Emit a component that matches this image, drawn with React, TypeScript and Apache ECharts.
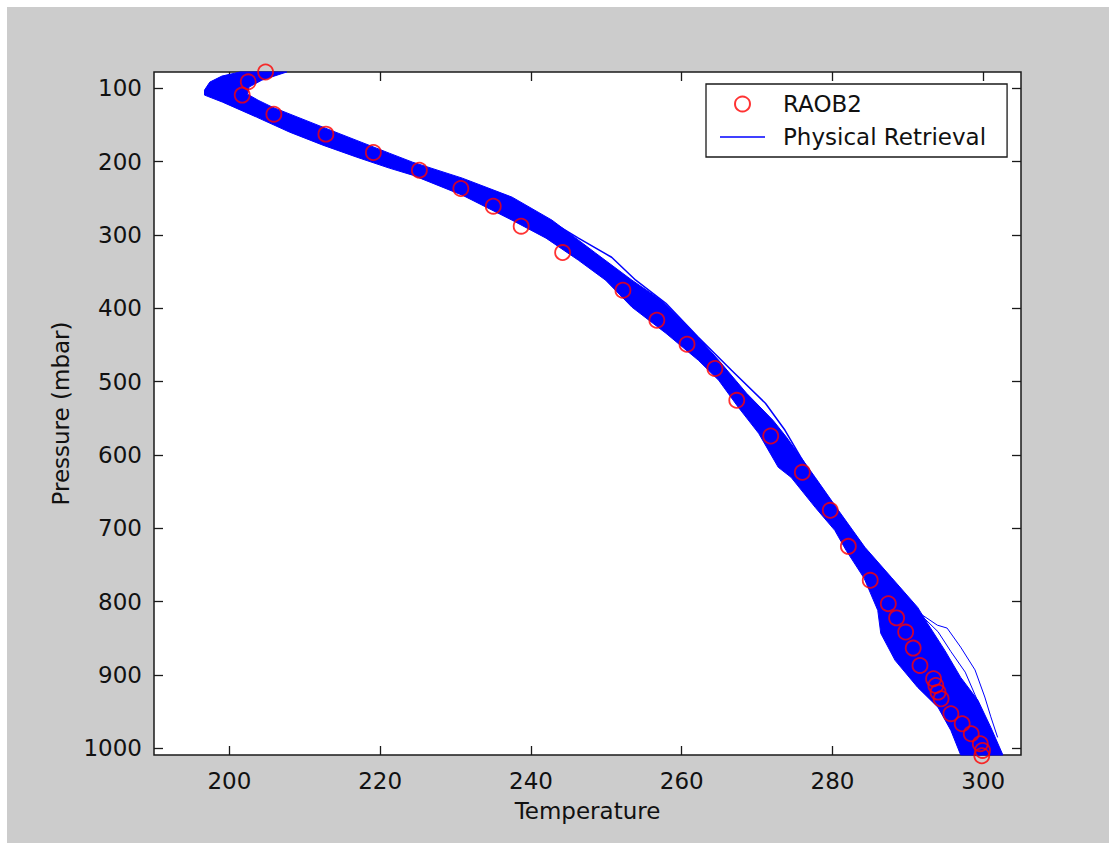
import React, { useEffect, useRef } from "react";
import * as echarts from "echarts";

// Axis ticks
const tempTicks = [200, 220, 240, 260, 280, 300];
const pressureTicks = [100, 200, 300, 400, 500, 600, 700, 800, 900, 1000];

// RAOB2 observations (Temperature K, Pressure mbar)
const raobTemp = [
  204.8, 202.5, 201.7, 205.9, 212.8, 219.1, 225.2, 230.7, 235.0, 238.7, 244.2, 252.2,
  256.7, 260.7, 264.4, 267.3, 271.8, 276.0, 279.7, 282.1, 285.0, 287.4, 288.5, 289.7,
  290.7, 291.6, 293.4, 293.7, 294.0, 294.4, 295.7, 297.2, 298.4, 299.6, 299.9, 299.8,
];
const raobPressure = [
  78, 91.4, 109.5, 135.5, 162.7, 187.7, 211.8, 236.8, 260.9, 288.2, 324.1, 375.5,
  416.4, 449.1, 482.2, 525.5, 574.2, 623.7, 675.5, 724.6, 770.9, 802.7, 822.1, 841.4,
  863.3, 886.9, 905, 914.2, 923.3, 932.3, 952.7, 966.4, 980, 993.6, 1002.8, 1010,
];

// Physical retrieval ensemble envelope: warm (right) edge
const bandWarmTemp = [
  207.6, 204.3, 202.6, 202.4, 203.8, 205.7, 212.4, 221.2, 224.3, 230.9, 237.5, 242.8,
  248.6, 253.4, 257.3, 261.3, 264.9, 268.6, 272.1, 273.9, 277.7, 280.5, 284.3, 287.8,
  291.3, 292.6, 294.9, 297.0, 299.3, 301.0, 302.6,
];
const bandWarmPressure = [
  78, 89.1, 98.6, 108.2, 116.4, 125.9, 153.2, 188.6, 200.9, 222.7, 248.6, 280,
  325, 361.8, 389.1, 430, 470.9, 515.9, 552.7, 575.9, 630.5, 671.4, 725.9, 766.8,
  807.8, 829.6, 866.4, 903.2, 934.6, 971.4, 1009,
];
// Physical retrieval ensemble envelope: cold (left) edge
const bandColdTemp = [
  201.4, 199.0, 197.4, 196.7, 196.7, 199.1, 203.6, 208.0, 212.4, 216.9, 221.2, 224.3,
  230.9, 237.5, 242.0, 246.3, 249.9, 253.4, 257.9, 262.2, 264.9, 267.5, 270.2, 272.8,
  274.5, 277.7, 280.3, 281.8, 284.2, 286.0, 286.4, 288.3, 291.3, 294.0, 295.7, 297.0,
];
const bandColdPressure = [
  78, 83.6, 91.8, 102.7, 109.5, 119.1, 139.5, 160, 177.7, 194.1, 209, 218.6,
  245.9, 280, 304.5, 334.6, 361.8, 398.6, 434.1, 470.9, 498.2, 535, 570.5, 616.8,
  630.5, 671.4, 702.8, 730, 768.2, 811.8, 843.2, 880, 916.9, 944.1, 975.5, 1009,
];

// Individual retrieval profiles that stray outside the envelope
const outlierATemp = [242.8, 246.3, 250.7, 253.9, 257.9, 262.2, 266.6, 271.1, 273.7, 275.8, 277.0];
const outlierAPressure = [282.7, 304.5, 330.5, 361.8, 393.2, 439.6, 484.6, 529.6, 566.4, 603.2, 623.7];
const outlierBTemp = [285.5, 287.0, 291.3, 293.9, 295.2, 297.0, 298.9, 300.2, 301.0, 301.9];
const outlierBPressure = [745, 764, 814, 832, 836, 862, 893, 930, 957, 985];
const outlierCTemp = [285.8, 287.4, 291.7, 294.0, 295.7, 297.6, 298.9, 300.6];
const outlierCPressure = [752, 768, 818, 841, 868, 896, 927, 968];

const FONT = "'DejaVu Sans', 'Liberation Sans', Arial, sans-serif";
const TEXT_COLOR = "#111";
const AXIS_COLOR = "#1a1a1a";

function pairs(xs: number[], ys: number[]) {
  return xs.map((x, i) => [x, ys[i]]);
}

export default function App() {
  const ref = useRef<HTMLDivElement>(null);

  useEffect(() => {
    if (!ref.current) return;
    const chart = echarts.init(ref.current, null, { renderer: "svg" });

    const warm = pairs(bandWarmTemp, bandWarmPressure);
    const cold = pairs(bandColdTemp, bandColdPressure);
    const polygon = warm.concat(cold.slice().reverse());

    const axisLabelStyle = {
      fontFamily: FONT,
      fontSize: 23,
      color: TEXT_COLOR,
    };
    const plain = (v: number) => String(v);

    const tickStyle = { color: AXIS_COLOR, width: 1.3 };

    chart.setOption({
      animation: false,
      backgroundColor: "#cccccc",
      grid: {
        left: 147,
        right: 88,
        top: 65,
        bottom: 88,
        show: true,
        backgroundColor: "#ffffff",
        borderColor: AXIS_COLOR,
        borderWidth: 1.5,
      },
      legend: {
        left: 699,
        top: 77,
        orient: "vertical",
        padding: [8, 21, 8, 14],
        itemWidth: 45,
        itemHeight: 15,
        itemGap: 9,
        borderColor: AXIS_COLOR,
        borderWidth: 1.3,
        backgroundColor: "#ffffff",
        selectedMode: false,
        textStyle: {
          fontFamily: FONT,
          fontSize: 23,
          color: TEXT_COLOR,
          lineHeight: 24,
          padding: [0, 0, 0, 13],
        },
        data: [
          { name: "RAOB2" },
          { name: "Physical Retrieval", icon: "path://M0,0 L45,0 L45,1.4 L0,1.4 Z" },
        ],
      },
      xAxis: [
        {
          type: "value",
          min: 190,
          max: 305,
          name: "Temperature",
          nameLocation: "middle",
          nameGap: 44,
          nameTextStyle: axisLabelStyle,
          axisLine: { show: false },
          splitLine: { show: false },
          axisTick: {
            inside: true,
            length: 9,
            lineStyle: tickStyle,
            customValues: tempTicks,
          },
          axisLabel: { ...axisLabelStyle, margin: 14, formatter: plain, customValues: tempTicks },
        },
        {
          type: "value",
          position: "top",
          min: 190,
          max: 305,
          axisLine: { show: false },
          splitLine: { show: false },
          axisTick: {
            inside: true,
            length: 9,
            lineStyle: tickStyle,
            customValues: tempTicks,
          },
          axisLabel: { show: false },
        },
      ],
      yAxis: [
        {
          type: "value",
          inverse: true,
          min: 78,
          max: 1009,
          name: "Pressure (mbar)",
          nameLocation: "middle",
          nameGap: 80,
          nameTextStyle: axisLabelStyle,
          axisLine: { show: false },
          splitLine: { show: false },
          axisTick: {
            inside: true,
            length: 9,
            lineStyle: tickStyle,
            customValues: pressureTicks,
          },
          axisLabel: { ...axisLabelStyle, margin: 12, formatter: plain, customValues: pressureTicks },
        },
        {
          type: "value",
          position: "right",
          inverse: true,
          min: 78,
          max: 1009,
          axisLine: { show: false },
          splitLine: { show: false },
          axisTick: {
            inside: true,
            length: 9,
            lineStyle: tickStyle,
            customValues: pressureTicks,
          },
          axisLabel: { show: false },
        },
      ],
      series: [
        {
          name: "Physical Retrieval",
          type: "line",
          data: pairs(outlierATemp, outlierAPressure),
          showSymbol: false,
          symbol: "none",
          lineStyle: { color: "#0000ff", width: 1.5 },
          itemStyle: { color: "#0000ff" },
          z: 2,
        },
        {
          name: "Physical Retrieval",
          type: "line",
          data: pairs(outlierBTemp, outlierBPressure),
          showSymbol: false,
          symbol: "none",
          lineStyle: { color: "#0000ff", width: 1 },
          itemStyle: { color: "#0000ff" },
          z: 2,
        },
        {
          name: "Physical Retrieval",
          type: "line",
          data: pairs(outlierCTemp, outlierCPressure),
          showSymbol: false,
          symbol: "none",
          lineStyle: { color: "#0000ff", width: 1 },
          itemStyle: { color: "#0000ff" },
          z: 2,
        },
        {
          name: "Physical Retrieval",
          type: "custom",
          data: [[250, 500]],
          z: 3,
          itemStyle: { color: "#0000ff" },
          renderItem: (_params: any, api: any) => {
            const pts = polygon.map((p) => api.coord(p));
            return {
              type: "polygon",
              shape: { points: pts },
              style: { fill: "#0000ff", stroke: "#0000ff", lineWidth: 1 },
            };
          },
        },
        {
          name: "RAOB2",
          type: "scatter",
          data: pairs(raobTemp, raobPressure),
          symbol: "circle",
          symbolSize: 15,
          clip: false,
          z: 5,
          itemStyle: {
            color: "rgba(0,0,0,0)",
            borderColor: "#ff0000",
            borderWidth: 1.8,
          },
        },
      ],
    });

    return () => chart.dispose();
  }, []);

  return (
    <div
      ref={ref}
      style={{ position: "absolute", left: 7, top: 7, width: 1102, height: 836 }}
    />
  );
}
